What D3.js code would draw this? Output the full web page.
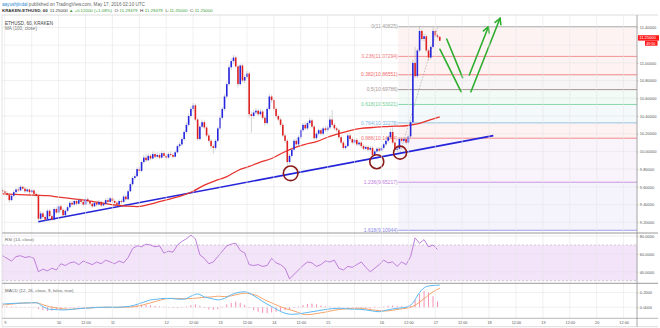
<!DOCTYPE html>
<html><head><meta charset="utf-8">
<script src="https://cdn.jsdelivr.net/npm/d3@7"></script>
<style>html,body{margin:0;padding:0;background:#fff;}svg{display:block;font-family:"Liberation Sans",Arial,sans-serif;}</style>
</head><body><svg id="c" width="660" height="328"></svg>
<script>
// ---------- DATA (hours since 2016-05-09 00:00 UTC, hourly bars) ----------
const firstHour = -1;
const firstOpen = 9.56;
const closes = [
9.55,9.53,9.51,9.45,9.50,9.54,9.57,9.56,9.60,9.58,
9.55,9.57,9.54,9.56,9.52,9.50,9.24,9.30,9.26,9.23,
9.33,9.27,9.23,9.35,9.31,9.38,9.34,9.28,9.33,9.37,
9.42,9.40,9.44,9.41,9.45,9.43,9.40,9.46,9.44,9.41,
9.38,9.42,9.40,9.43,9.39,9.41,9.45,9.43,9.47,9.44,
9.42,9.40,9.44,9.43,9.49,9.46,9.55,9.63,9.70,9.72,
9.80,9.78,9.88,9.93,9.90,9.95,9.92,9.97,9.94,9.96,
9.93,9.98,9.95,9.93,9.97,9.96,9.94,9.99,10.06,10.08,
10.14,10.22,10.30,10.40,10.48,10.52,10.36,10.14,10.28,10.33,
10.27,10.18,10.12,10.06,10.04,10.12,10.26,10.38,10.48,10.62,
10.76,10.95,11.02,11.06,10.96,10.76,10.97,10.80,10.84,10.88,
10.42,10.40,10.44,10.46,10.42,10.45,10.38,10.32,10.48,10.62,
10.58,10.48,10.40,10.36,10.30,10.18,10.12,9.88,9.95,10.02,
10.12,10.08,10.16,10.24,10.30,10.26,10.32,10.35,10.28,10.15,
10.20,10.24,10.20,10.26,10.24,10.27,10.36,10.30,10.26,10.24,
10.16,10.10,10.04,10.06,10.18,10.14,10.10,10.13,10.08,10.10,
10.06,10.03,10.05,10.02,10.04,9.96,10.00,10.03,10.01,10.04,
10.08,10.12,10.16,10.22,10.10,10.02,10.03,10.14,10.12,10.14,
10.10,10.17,10.33,11.00,10.85,11.14,11.36,11.27,11.30,11.14,
11.06,11.18,11.36,11.31,11.29479,11.25];
const highs = [
9.58,9.57,9.55,9.53,9.52,9.56,9.59,9.60,9.62,9.61,
9.60,9.59,9.58,9.58,9.57,9.54,9.51,9.33,9.32,9.28,
9.35,9.35,9.29,9.37,9.37,9.40,9.40,9.36,9.35,9.39,
9.44,9.44,9.46,9.45,9.47,9.47,9.45,9.48,9.48,9.45,
9.43,9.44,9.43,9.45,9.44,9.43,9.47,9.48,9.49,9.48,
9.46,9.44,9.46,9.46,9.51,9.51,9.57,9.65,9.72,9.75,
9.82,9.83,9.90,9.96,9.97,9.98,9.97,10.00,9.99,9.99,
9.98,10.01,10.00,9.97,9.99,10.00,9.98,10.01,10.08,10.11,
10.16,10.24,10.33,10.43,10.51,10.55,10.54,10.38,10.30,10.36,
10.35,10.29,10.20,10.14,10.08,10.14,10.28,10.40,10.50,10.65,
10.79,10.98,11.05,11.09,11.08,10.98,10.99,10.99,10.87,10.91,
10.90,10.45,10.47,10.49,10.48,10.48,10.47,10.40,10.50,10.65,
10.64,10.60,10.50,10.42,10.38,10.32,10.20,10.14,9.97,10.04,
10.14,10.15,10.18,10.26,10.32,10.33,10.34,10.38,10.37,10.30,
10.22,10.26,10.26,10.28,10.29,10.30,10.40,10.47,10.32,10.28,
10.26,10.18,10.12,10.08,10.20,10.20,10.16,10.15,10.15,10.12,
10.12,10.08,10.07,10.07,10.06,10.06,10.02,10.05,10.05,10.06,
10.10,10.14,10.18,10.26,10.27,10.12,10.05,10.16,10.16,10.16,
10.16,10.19,10.35,11.04,11.18,11.16,11.40825,11.38,11.33,11.32,
11.16,11.20,11.40,11.38,11.33,11.29479];
const lows = [
9.53,9.51,9.49,9.42,9.44,9.48,9.52,9.54,9.55,9.56,
9.53,9.54,9.52,9.53,9.50,9.48,9.21,9.22,9.24,9.21,
9.22,9.25,9.22,9.22,9.29,9.30,9.32,9.26,9.27,9.31,
9.36,9.38,9.39,9.39,9.40,9.41,9.38,9.39,9.42,9.39,
9.36,9.37,9.38,9.39,9.37,9.38,9.40,9.41,9.42,9.42,
9.40,9.38,9.39,9.41,9.42,9.44,9.45,9.54,9.61,9.68,
9.71,9.76,9.77,9.86,9.88,9.89,9.90,9.91,9.92,9.92,
9.91,9.92,9.93,9.91,9.92,9.94,9.92,9.93,9.98,10.04,
10.06,10.12,10.20,10.28,10.38,10.45,10.34,10.12,10.12,10.26,
10.25,10.16,10.10,10.03,9.97,10.02,10.10,10.24,10.36,10.46,
10.60,10.74,10.92,10.99,10.94,10.72,10.74,10.78,10.77,10.82,
10.38,10.21,10.37,10.42,10.40,10.40,10.36,10.29,10.30,10.46,
10.55,10.46,10.38,10.34,10.28,10.16,10.10,9.84,9.86,9.93,
10.00,10.06,10.06,10.14,10.22,10.24,10.24,10.30,10.26,10.13,
10.13,10.18,10.18,10.18,10.22,10.22,10.25,10.28,10.24,10.22,
10.14,10.08,10.02,10.02,10.05,10.12,10.08,10.08,10.06,10.06,
10.04,10.01,10.01,10.00,10.00,9.94,9.95,9.98,9.99,10.00,
10.02,10.06,10.10,10.14,10.08,10.00,9.99,10.01,10.10,10.10,
10.08,10.08,10.15,10.31,10.83,10.83,11.12,11.25,11.24,11.12,
11.02,11.04,11.16,11.29,11.27,11.25];

// MA(100, close) read every 5 bars
const maStart = -1, maStep = 5;
const maValues = [9.52,9.515,9.51,9.505,9.50,9.485,9.47,9.455,9.435,9.415,
9.395,9.383,9.376,9.40,9.432,9.465,9.50,9.55,9.62,9.67,
9.715,9.785,9.83,9.88,9.92,9.985,10.04,10.08,10.11,10.16,
10.20,10.235,10.26,10.27,10.28,10.285,10.29,10.31,10.35,10.39];

// RSI(14) read every 2 bars
const rsiStart = -1, rsiStep = 2;
const rsiValues = [58,55,52,57,58,56,57,55,40,43,
41,44,42,49,47,50,51,48,52,50,
48,51,49,53,51,49,52,50,56,66,
69,68,71,70,68,69,61,63,62,70,
74,77,81,77,59,55,49,51,57,63,
69,71,72,64,61,48,47,48,46,47,
55,50,48,44,32,37,42,47,51,50,
46,48,52,51,53,44,42,46,45,48,
51,45,40,44,48,53,50,51,46,51,
48,57,78,72,76,68,70,65];

// MACD(12,26,9) read every 3 bars
const macdStart = -1, macdStep = 3;
const macdValues = [0.045,0.05,0.055,0.058,0.06,0.062,0.01,-0.027,-0.032,-0.036,
-0.03,-0.02,-0.013,-0.008,-0.002,0,0.002,0,0.005,0.015,
0.04,0.07,0.10,0.11,0.12,0.12,0.11,0.11,0.15,0.18,
0.14,0.12,0.10,0.12,0.17,0.20,0.21,0.175,0.12,0.06,
0.01,-0.04,-0.08,-0.095,-0.09,-0.075,-0.06,-0.045,-0.03,-0.018,
-0.013,-0.02,-0.025,-0.027,-0.035,-0.05,-0.06,-0.04,-0.022,-0.01,
0,0.06,0.2,0.28,0.295,0.30];
const signalValues = [0.03,0.04,0.05,0.056,0.06,0.062,0.035,0.008,-0.008,-0.022,
-0.027,-0.02,-0.013,-0.008,-0.002,0,0,0,0.002,0.004,
0.015,0.035,0.06,0.085,0.11,0.12,0.12,0.115,0.118,0.125,
0.135,0.14,0.15,0.145,0.155,0.175,0.19,0.18,0.15,0.10,
0.06,0.02,-0.015,-0.04,-0.07,-0.1,-0.095,-0.08,-0.065,-0.045,
-0.03,-0.02,-0.015,-0.013,-0.02,-0.035,-0.045,-0.05,-0.04,-0.025,
-0.013,0.01,0.07,0.14,0.21,0.257];
// histogram read every 2 bars
const histStart = -1, histStep = 2;
const histValues = [0.015,0.012,0.01,0.008,0.005,0.004,0.002,0,-0.025,-0.04,
-0.05,-0.045,-0.035,-0.03,-0.015,-0.008,0.005,0.01,0.006,0.004,
0.01,0.006,0.003,0.008,0.005,-0.004,0.004,0.006,0.01,0.02,
0.028,0.032,0.03,0.028,0.02,0.012,0.008,-0.005,-0.01,-0.012,
-0.008,0.01,0.03,0.04,0.02,-0.01,-0.03,-0.035,-0.025,0.01,
0.04,0.06,0.075,0.06,0.035,-0.01,-0.04,-0.06,-0.075,-0.08,
-0.07,-0.06,-0.05,-0.04,-0.03,-0.01,0.01,0.03,0.045,0.05,
0.04,0.025,0.015,0.01,0.005,0.008,-0.005,-0.01,0.004,-0.006,
-0.01,-0.012,-0.015,-0.01,-0.005,0.008,0.02,0.025,0.02,0.015,
0.01,0.02,0.1,0.18,0.22,0.2,0.15,0.08];

// Fibonacci retracement
const fibLevels = ["0","0.236","0.382","0.5","0.618","0.764","0.886","1.236","1.618"];
const fibPrices = [11.40825,11.07294,10.86551,10.69786,10.53021,10.32278,10.14944,9.65217,9.10944];
const fibColors = ["#9e9e9e","#ef7b7b","#f06a6a","#a89494","#6fcf97","#80b8e0","#f07272","#c07ddb","#8c88e6"];
const fibStartHour = 175.5;
const fibAnchorHours = [176.3, 193.2];
const fibAnchorPrices = [9.98747, 11.40825];

// drawings
const trendHours = [14.9, 217.9];
const trendPrices = [9.206, 10.178];
const circleHours = [127.5, 165.9, 176.3];
const circlePrices = [9.753, 9.884, 9.986];
const arrowFromHours = [197.1, 194.1, 207.2, 207.9];
const arrowFromPrices = [11.269, 11.153, 10.863, 10.674];
const arrowToHours = [204.2, 203.5, 215.7, 220.9];
const arrowToPrices = [10.833, 10.674, 11.408, 11.503];
const arrowHasHead = [false, false, true, true];

// ticks
const priceTicks = [11.4,11.2,11.0,10.8,10.6,10.4,10.2,10.0,9.8,9.6,9.4,9.2];
const rsiTicks = [80,60,40];
const macdTicks = [0.2,0];
const gridHours = [0,12,24,36,48,60,72,84,96,108,120,132,144,156,168,180,192,204,216,228,240,252,264,276];
const timeLabelHours = [0,24,36,48,72,84,96,108,120,132,144,168,180,192,204,216,228,240,252,264,276];
const timeLabels = ["9","10","12:00","11","12","12:00","13","12:00","14","12:00","15","16","12:00","17","12:00","18","12:00","19","12:00","20","12:00"];

// ---------- LAYOUT ----------
const svg = d3.select("#c");
const L = 2, R = 637, W = 660;
const mainTop = 15, mainBot = 233, rsiBot = 283.3, macdBot = 318.3, axisBot = 326.7;

const x = d3.scaleLinear().domain([0, 276]).range([4.8, 623.6]);
const y = d3.scaleLinear().domain([9.10944, 11.40825]).range([230.3, 26.7]);
const yR = d3.scaleLinear().domain([30, 70]).range([280.7, 245]);
const yM = d3.scaleLinear().domain([0, 0.2]).range([307.3, 292.5]);

const defs = svg.append("defs");
function clip(id, y0, y1) {
  defs.append("clipPath").attr("id", id).append("rect")
    .attr("x", L).attr("y", y0).attr("width", R - L).attr("height", y1 - y0);
}
clip("cm", mainTop, mainBot); clip("cr", mainBot, rsiBot); clip("cd", rsiBot, macdBot);

svg.append("rect").attr("width", W).attr("height", 328).attr("fill", "#fff");

const gMain = svg.append("g").attr("clip-path", "url(#cm)");
const gRsi = svg.append("g").attr("clip-path", "url(#cr)");
const gMacd = svg.append("g").attr("clip-path", "url(#cd)");

// fib zones
const fx0 = x(fibStartHour);
for (let i = 0; i < fibPrices.length - 1; i++) {
  gMain.append("rect").attr("x", fx0).attr("width", R - fx0)
    .attr("y", y(fibPrices[i])).attr("height", y(fibPrices[i+1]) - y(fibPrices[i]))
    .attr("fill", fibColors[i+1]).attr("fill-opacity", 0.09);
}
// RSI band
gRsi.append("rect").attr("x", L).attr("width", R - L).attr("y", yR(70)).attr("height", yR(30) - yR(70))
  .attr("fill", "#f3e4fa");

// grid
const gridCol = "#e6e6e6";
gridHours.forEach(h => {
  svg.append("line").attr("x1", x(h)).attr("x2", x(h)).attr("y1", mainTop).attr("y2", macdBot)
    .attr("stroke", gridCol).attr("stroke-width", 0.6);
});
priceTicks.forEach(p => {
  gMain.append("line").attr("x1", L).attr("x2", R).attr("y1", y(p)).attr("y2", y(p))
    .attr("stroke", gridCol).attr("stroke-width", 0.6);
});
rsiTicks.forEach(v => {
  gRsi.append("line").attr("x1", L).attr("x2", R).attr("y1", yR(v)).attr("y2", yR(v))
    .attr("stroke", "#e4dbe8").attr("stroke-width", 0.6);
});
[70, 30].forEach(v => {
  gRsi.append("line").attr("x1", L).attr("x2", R).attr("y1", yR(v)).attr("y2", yR(v))
    .attr("stroke", "#b9b0bd").attr("stroke-width", 0.6).attr("stroke-dasharray", "2,2");
});
macdTicks.forEach(v => {
  gMacd.append("line").attr("x1", L).attr("x2", R).attr("y1", yM(v)).attr("y2", yM(v))
    .attr("stroke", gridCol).attr("stroke-width", 0.6);
});

// fib lines & labels
fibPrices.forEach((p, i) => {
  gMain.append("line").attr("x1", fx0).attr("x2", R).attr("y1", y(p)).attr("y2", y(p))
    .attr("stroke", fibColors[i]).attr("stroke-width", i === 3 ? 1 : 0.8);
  gMain.append("text").attr("x", fx0 - 0.5).attr("y", y(p) + 1.7).attr("text-anchor", "end")
    .attr("font-size", 5).attr("fill", fibColors[i])
    .text(fibLevels[i] + "(" + p.toFixed(5) + ")");
});
// fib anchor diagonal
gMain.append("line")
  .attr("x1", x(fibAnchorHours[0])).attr("y1", y(fibAnchorPrices[0]))
  .attr("x2", x(fibAnchorHours[1])).attr("y2", y(fibAnchorPrices[1]))
  .attr("stroke", "#9a9a9a").attr("stroke-width", 0.6).attr("stroke-dasharray", "1.5,1.5");

// trendline
gMain.append("line")
  .attr("x1", x(trendHours[0])).attr("y1", y(trendPrices[0]))
  .attr("x2", x(trendHours[1])).attr("y2", y(trendPrices[1]))
  .attr("stroke", "#2424d8").attr("stroke-width", 1.6);

// MA
const maPts = maValues.map((v, i) => [maStart + i * maStep, v]);
gMain.append("path").datum(maPts)
  .attr("d", d3.line().x(d => x(d[0])).y(d => y(d[1])).curve(d3.curveMonotoneX))
  .attr("fill", "none").attr("stroke", "#e8322c").attr("stroke-width", 1.3);

// candles
const bars = closes.map((c, i) => ({
  h: firstHour + i, o: i === 0 ? firstOpen : closes[i-1], c: c, hi: highs[i], lo: lows[i]
}));
const cg = gMain.append("g");
cg.selectAll("line.w").data(bars).join("line").attr("class", "w")
  .attr("x1", d => x(d.h)).attr("x2", d => x(d.h))
  .attr("y1", d => y(d.hi)).attr("y2", d => y(d.lo))
  .attr("stroke", "#a8a8a8").attr("stroke-width", 0.5);
cg.selectAll("rect.b").data(bars).join("rect").attr("class", "b")
  .attr("x", d => x(d.h) - 0.8).attr("width", 1.6)
  .attr("y", d => y(Math.max(d.o, d.c)))
  .attr("height", d => Math.max(0.8, Math.abs(y(d.o) - y(d.c))))
  .attr("fill", d => d.c >= d.o ? "#2626e0" : "#e02020");

// circles
circleHours.forEach((h, i) => {
  gMain.append("circle").attr("cx", x(h)).attr("cy", y(circlePrices[i]))
    .attr("r", [7.3, 7, 6.5][i]).attr("fill", "none")
    .attr("stroke", "#8b1a1a").attr("stroke-width", 1.6);
});

// green arrows
arrowFromHours.forEach((h, i) => {
  const x1 = x(h), y1 = y(arrowFromPrices[i]), x2 = x(arrowToHours[i]), y2 = y(arrowToPrices[i]);
  gMain.append("line").attr("x1", x1).attr("y1", y1).attr("x2", x2).attr("y2", y2)
    .attr("stroke", "#2eae2e").attr("stroke-width", 1.6).attr("stroke-linecap", "round");
  if (arrowHasHead[i]) {
    const a = Math.atan2(y2 - y1, x2 - x1), len = 6.5;
    [-0.5, 0.5].forEach(d => {
      gMain.append("line").attr("x1", x2).attr("y1", y2)
        .attr("x2", x2 - len * Math.cos(a + d)).attr("y2", y2 - len * Math.sin(a + d))
        .attr("stroke", "#2eae2e").attr("stroke-width", 1.6).attr("stroke-linecap", "round");
    });
  }
});

// RSI line
const rsiPts = rsiValues.map((v, i) => [rsiStart + i * rsiStep, v]);
gRsi.append("path").datum(rsiPts)
  .attr("d", d3.line().x(d => x(d[0])).y(d => yR(d[1])))
  .attr("fill", "none").attr("stroke", "#b873d6").attr("stroke-width", 0.9);

// MACD
const histPts = histValues.map((v, i) => [histStart + i * histStep, v]);
gMacd.selectAll("rect.hb").data(histPts).join("rect").attr("class", "hb")
  .attr("x", d => x(d[0]) - 0.5).attr("width", 1)
  .attr("y", d => Math.min(yM(0), yM(d[1])))
  .attr("height", d => Math.max(0.4, Math.abs(yM(d[1]) - yM(0))))
  .attr("fill", "#f48fb8");
const macdPts = macdValues.map((v, i) => [macdStart + i * macdStep, v]);
const sigPts = signalValues.map((v, i) => [macdStart + i * macdStep, v]);
gMacd.append("path").datum(sigPts)
  .attr("d", d3.line().x(d => x(d[0])).y(d => yM(d[1])).curve(d3.curveMonotoneX))
  .attr("fill", "none").attr("stroke", "#f7a46a").attr("stroke-width", 1);
gMacd.append("path").datum(macdPts)
  .attr("d", d3.line().x(d => x(d[0])).y(d => yM(d[1])).curve(d3.curveMonotoneX))
  .attr("fill", "none").attr("stroke", "#5cb8f2").attr("stroke-width", 1);

// pane borders
const border = (x1, y1, x2, y2, c, w) => svg.append("line").attr("x1", x1).attr("y1", y1)
  .attr("x2", x2).attr("y2", y2).attr("stroke", c).attr("stroke-width", w);
border(L, mainTop, W - 2, mainTop, "#c8c8c8", 0.6);
border(L, mainBot, W - 2, mainBot, "#8f8f8f", 0.9);
border(L, rsiBot, W - 2, rsiBot, "#8f8f8f", 0.9);
border(L, macdBot, W - 2, macdBot, "#9a9a9a", 0.7);
border(L, axisBot, W - 2, axisBot, "#c8c8c8", 0.6);
border(R, mainTop, R, axisBot, "#8f8f8f", 0.8);
border(L, mainTop, L, axisBot, "#d0d0d0", 0.6);

// axes
function styleAxis(g) {
  g.select(".domain").remove();
  g.attr("font-size", null).attr("font-family", null);
  g.selectAll(".tick line").attr("stroke", "#999").attr("stroke-width", 0.5);
  g.selectAll("text").attr("fill", "#555").style("font-size", "4px");
}
// price axis: the tick label hidden by the live price tag is left out
const lastC = closes[closes.length - 1];
const visiblePriceTicks = priceTicks.filter(p => Math.abs(y(p) - y(lastC)) > 6.5);
svg.append("g").attr("transform", `translate(${R},0)`)
  .call(d3.axisRight(y).tickValues(visiblePriceTicks).tickFormat(d3.format(".5f")).tickSize(1.5).tickPadding(1.3))
  .call(styleAxis);
svg.append("g").attr("transform", `translate(${R},0)`)
  .call(d3.axisRight(yR).tickValues(rsiTicks).tickFormat(d3.format(".4f")).tickSize(1.5).tickPadding(1.3))
  .call(styleAxis);
svg.append("g").attr("transform", `translate(${R},0)`)
  .call(d3.axisRight(yM).tickValues(macdTicks).tickFormat(d3.format(".4f")).tickSize(1.5).tickPadding(1.3))
  .call(styleAxis);
const tx = svg.append("g").attr("transform", `translate(0,${(macdBot + axisBot) / 2})`)
  .call(d3.axisBottom(x).tickValues(timeLabelHours).tickFormat((d, i) => timeLabels[i]).tickSize(0).tickPadding(0))
  .call(styleAxis);
tx.selectAll("text").attr("dy", "0.35em").attr("y", 0).style("font-size", "3.8px");

// price tag (live price + countdown)
svg.append("rect").attr("x", R + 1).attr("y", y(lastC) - 5.5).attr("width", 21).attr("height", 5.4).attr("fill", "#ff1a1a");
svg.append("text").attr("x", R + 2.3).attr("y", y(lastC) - 1.4).attr("font-size", 4).attr("fill", "#fff").text(lastC.toFixed(5));
svg.append("rect").attr("x", R + 8).attr("y", y(lastC)).attr("width", 12.5).attr("height", 5).attr("fill", "#ff1a1a");
svg.append("text").attr("x", R + 9.2).attr("y", y(lastC) + 3.9).attr("font-size", 3.6).attr("fill", "#fff").text("49:50");

// header
const t1 = svg.append("text").attr("x", 2).attr("y", 6.3).attr("font-size", 4.6);
t1.append("tspan").attr("fill", "#2d8bd3").text("aayushjindal");
t1.append("tspan").attr("fill", "#666").text(" published on TradingView.com, May 17, 2016 02:10 UTC");

const hy = 12.3;
const headerParts = [
  ["KRAKEN:ETHUSD, 60", "#333", "bold"],
  ["11.25000", "#333", "normal"],
  ["▲", "#3c9d3c", "normal"],
  ["+0.12000 (+1.08%)", "#3c9d3c", "normal"],
  ["O:", "#333", "normal"], ["11.29479", "#3c9d3c", "normal"],
  ["H:", "#333", "normal"], ["11.29479", "#3c9d3c", "normal"],
  ["L:", "#333", "normal"], ["11.25000", "#3c9d3c", "normal"],
  ["C:", "#333", "normal"], ["11.25000", "#3c9d3c", "normal"]
];
const gaps = [2.2, 1.2, 1, 2.6, 0.3, 2.6, 0.3, 2.6, 0.3, 2.6, 0.3, 0];
let cx = 2;
headerParts.forEach((p, i) => {
  const t = svg.append("text").attr("x", cx).attr("y", hy).attr("font-size", 4.4)
    .attr("font-weight", p[2]).attr("fill", p[1]).text(p[0]);
  cx += t.node().getComputedTextLength() + gaps[i];
});

// pane legends
svg.append("text").attr("x", 5).attr("y", 24.8).attr("font-size", 4.6).attr("fill", "#444").text("ETHUSD, 60, KRAKEN");
svg.append("text").attr("x", 5).attr("y", 30.2).attr("font-size", 4.6).attr("fill", "#777").text("MA (100, close)");
svg.append("text").attr("x", 5).attr("y", 240.6).attr("font-size", 4.4).attr("fill", "#666").text("RSI (14, close)");
svg.append("text").attr("x", 5).attr("y", 291.6).attr("font-size", 4.4).attr("fill", "#666").text("MACD (12, 26, close, 9, false, true)");
</script></body></html>
